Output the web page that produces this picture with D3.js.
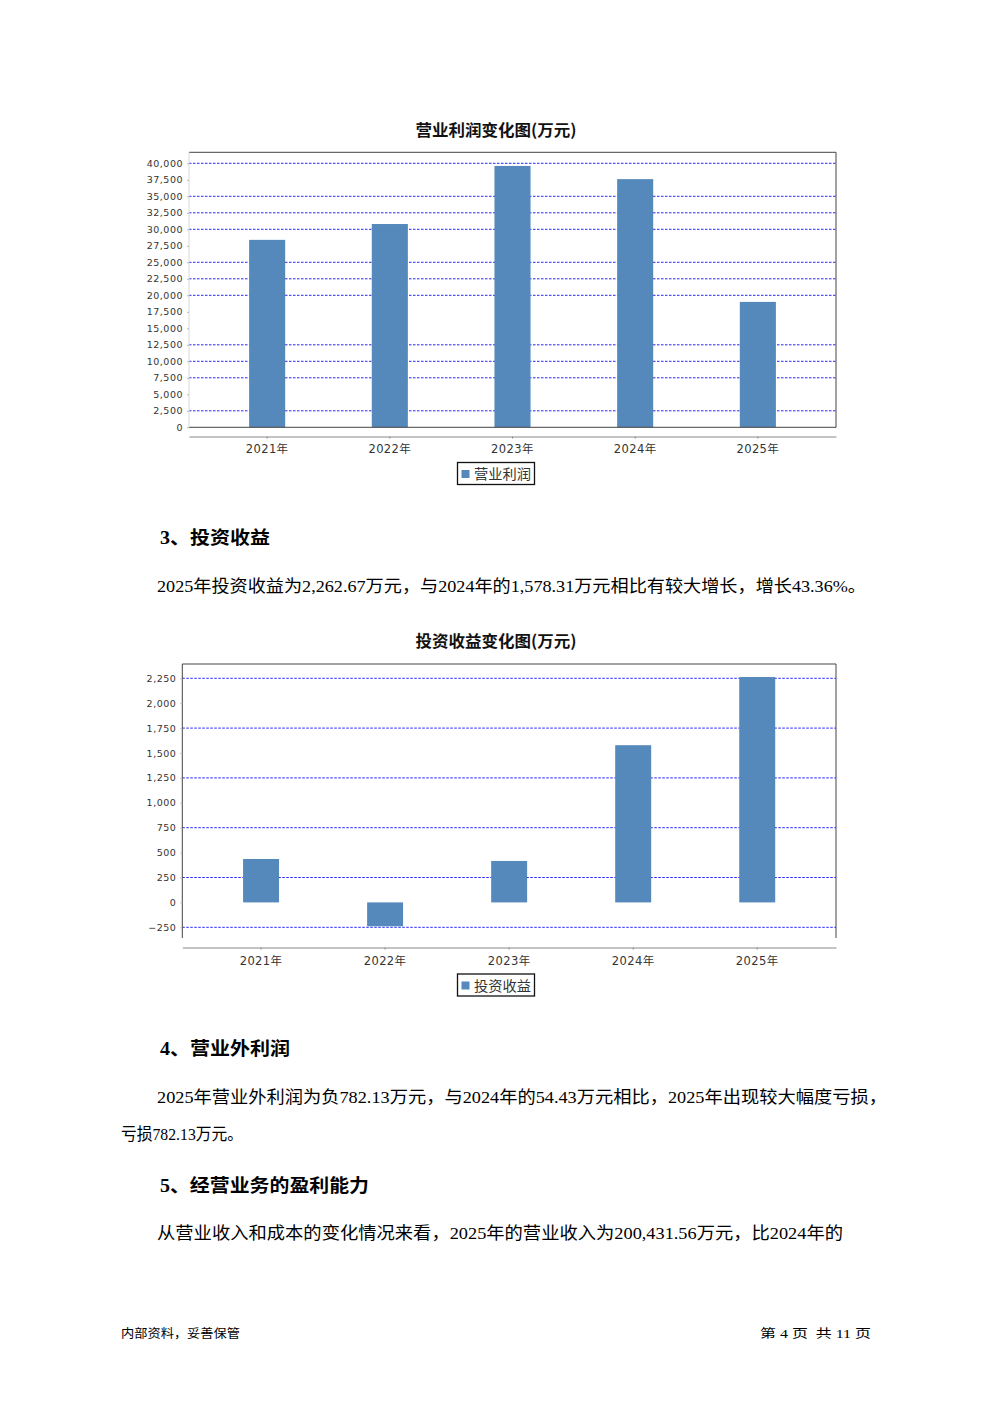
<!DOCTYPE html>
<html><head><meta charset="utf-8">
<script src="https://cdn.jsdelivr.net/npm/d3@7"></script>
<style>body{margin:0;background:#fff}svg{display:block}</style>
</head><body>
<svg id="page" width="992" height="1403"></svg>
<script>
// ---------- data ----------
const categories = ["2021年", "2022年", "2023年", "2024年", "2025年"];

const opProfitTitle = "营业利润变化图(万元)";
const opProfitSeries = "营业利润";
const opProfit = [28400, 30800, 39600, 37600, 19000];
const opTicks = [0, 2500, 5000, 7500, 10000, 12500, 15000, 17500, 20000, 22500, 25000, 27500, 30000, 32500, 35000, 37500, 40000];
const opGrid = [2500, 7500, 10000, 12500, 20000, 22500, 25000, 30000, 32500, 35000, 40000];

const invTitle = "投资收益变化图(万元)";
const invSeries = "投资收益";
const invIncome = [436, -240, 416, 1578.31, 2262.67];
const invTicks = [-250, 0, 250, 500, 750, 1000, 1250, 1500, 1750, 2000, 2250];
const invGrid = [-250, 250, 750, 1250, 1750, 2250];

const heading3 = "3、投资收益";
const para3 = "2025年投资收益为2,262.67万元，与2024年的1,578.31万元相比有较大增长，增长43.36%。";
const heading4 = "4、营业外利润";
const para4a = "2025年营业外利润为负782.13万元，与2024年的54.43万元相比，2025年出现较大幅度亏损，";
const para4b = "亏损782.13万元。";
const heading5 = "5、经营业务的盈利能力";
const para5 = "从营业收入和成本的变化情况来看，2025年的营业收入为200,431.56万元，比2024年的";
const footerLeft = "内部资料，妥善保管";
const footerRight = "第 4 页  共 11 页";

// ---------- drawing ----------
const svg = d3.select("#page");
const BAR = "#5588bb";
const fmt = d3.format(",");

function drawChart(cfg) {
  const g = svg.append("g");
  const y = d3.scaleLinear().domain(cfg.domain).range([cfg.y1, cfg.y0]);
  const x = d3.scaleBand().domain(categories).range([cfg.x0, cfg.x1])
    .paddingInner(cfg.pi).paddingOuter(cfg.po);

  // title
  g.append("text").attr("x", cfg.titleX).attr("y", cfg.titleY)
    .attr("text-anchor", "middle")
    .attr("font-family", "'Noto Sans CJK SC', sans-serif")
    .attr("font-weight", "bold").attr("font-size", 16)
    .attr("textLength", 161).attr("lengthAdjust", "spacingAndGlyphs")
    .attr("fill", "#111").text(cfg.title);

  // grid lines
  g.append("g").selectAll("line").data(cfg.grid).join("line")
    .attr("x1", cfg.x0).attr("x2", cfg.x1)
    .attr("y1", d => y(d)).attr("y2", d => y(d))
    .attr("stroke", "#2626ff").attr("stroke-width", 1)
    .attr("stroke-dasharray", "2.5,1.5");

  // bars
  g.append("g").selectAll("rect").data(cfg.values).join("rect")
    .attr("x", (d, i) => x(categories[i]))
    .attr("width", x.bandwidth())
    .attr("y", d => y(Math.max(0, d)))
    .attr("height", d => Math.abs(y(d) - y(0)))
    .attr("fill", BAR);

  // plot frame
  const fr = g.append("g").attr("fill", "none");
  fr.append("line").attr("x1", cfg.x0).attr("x2", cfg.x1).attr("y1", cfg.y0).attr("y2", cfg.y0).attr("stroke", "#444");
  fr.append("line").attr("x1", cfg.x1).attr("x2", cfg.x1).attr("y1", cfg.y0).attr("y2", cfg.y1).attr("stroke", "#444");
  if (cfg.bottomBorder)
    fr.append("line").attr("x1", cfg.x0).attr("x2", cfg.x1).attr("y1", cfg.y1).attr("y2", cfg.y1).attr("stroke", "#444");

  // y axis
  const ya = g.append("g").attr("transform", `translate(${cfg.x0},0)`)
    .call(d3.axisLeft(y).tickValues(cfg.ticks).tickFormat(fmt).tickSize(2).tickPadding(cfg.tickPad));
  ya.select(".domain").attr("stroke", cfg.leftColor).attr("d", `M0,${cfg.y0}V${cfg.y1}`);
  ya.selectAll(".tick line").attr("stroke", "#bbb");
  ya.selectAll(".tick text").attr("font-family", "'DejaVu Sans', sans-serif")
    .attr("font-size", 9.5).attr("letter-spacing", 0.5).attr("fill", "#333");

  // x axis
  const xa = g.append("g").attr("transform", `translate(0,${cfg.axisY})`)
    .call(d3.axisBottom(x).tickSize(2).tickPadding(cfg.xPad).tickSizeOuter(0));
  xa.select(".domain").attr("stroke", "#888");
  xa.selectAll(".tick line").attr("stroke", "#888");
  xa.selectAll(".tick text").attr("font-family", "'DejaVu Sans', 'Noto Sans CJK SC', sans-serif")
    .attr("font-size", 11.5).attr("letter-spacing", 0.4).attr("fill", "#333");

  // legend
  const lg = g.append("g").attr("transform", `translate(${cfg.legendX},${cfg.legendY})`);
  lg.append("rect").attr("x", 0).attr("y", 0).attr("width", 77).attr("height", 22)
    .attr("fill", "#fff").attr("stroke", "#111").attr("stroke-width", 1.3);
  lg.append("rect").attr("x", 4).attr("y", 7.5).attr("width", 8).attr("height", 8).attr("fill", BAR);
  lg.append("text").attr("x", 16.5).attr("y", 16.5)
    .attr("font-family", "'Noto Sans CJK SC', sans-serif").attr("font-size", 14)
    .attr("textLength", 57).attr("lengthAdjust", "spacingAndGlyphs")
    .attr("fill", "#333").text(cfg.series);
}

drawChart({
  title: opProfitTitle, series: opProfitSeries, values: opProfit,
  ticks: opTicks, grid: opGrid, domain: [0, 41667],
  x0: 189, x1: 836, y0: 152.3, y1: 427.3, axisY: 436.5,
  pi: 0.706, po: 0.49, tickPad: 4, xPad: 6.5, leftColor: "#d8d8d8", bottomBorder: true,
  titleX: 496, titleY: 135.5, legendX: 457.5, legendY: 462.5
});

drawChart({
  title: invTitle, series: invSeries, values: invIncome,
  ticks: invTicks, grid: invGrid, domain: [-357.4, 2393.6],
  x0: 182.3, x1: 836, y0: 664, y1: 938, axisY: 947.5,
  pi: 0.71, po: 0.49, tickPad: 4, xPad: 7.5, leftColor: "#444", bottomBorder: false,
  titleX: 496, titleY: 646.5, legendX: 457.5, legendY: 974
});

// ---------- page text ----------
const SERIF = "'Liberation Serif', 'Noto Sans CJK SC', serif";
const lines = [
  { t: heading3, x: 160, y: 544, size: 18, w: "bold", len: 110 },
  { t: para3, x: 157, y: 592, size: 17, w: "normal", len: 709 },
  { t: heading4, x: 160, y: 1055, size: 18, w: "bold", len: 130 },
  { t: para4a, x: 157, y: 1103, size: 17, w: "normal", len: 730 },
  { t: para4b, x: 121, y: 1140, size: 17, w: "normal", len: 122 },
  { t: heading5, x: 160, y: 1192, size: 18, w: "bold", len: 209 },
  { t: para5, x: 157, y: 1239, size: 17, w: "normal", len: 686 },
  { t: footerLeft, x: 121, y: 1338, size: 12.5, w: "normal", len: 119 },
  { t: footerRight, x: 760, y: 1338, size: 12.5, w: "normal", len: 111 }
];
svg.append("g").selectAll("text").data(lines).join("text")
  .attr("x", d => d.x).attr("y", d => d.y)
  .attr("font-family", SERIF).attr("font-size", d => d.size)
  .attr("font-weight", d => d.w)
  .attr("textLength", d => d.len).attr("lengthAdjust", "spacingAndGlyphs")
  .attr("fill", "#000").attr("xml:space", "preserve")
  .style("white-space", "pre")
  .text(d => d.t);
</script>
</body></html>
